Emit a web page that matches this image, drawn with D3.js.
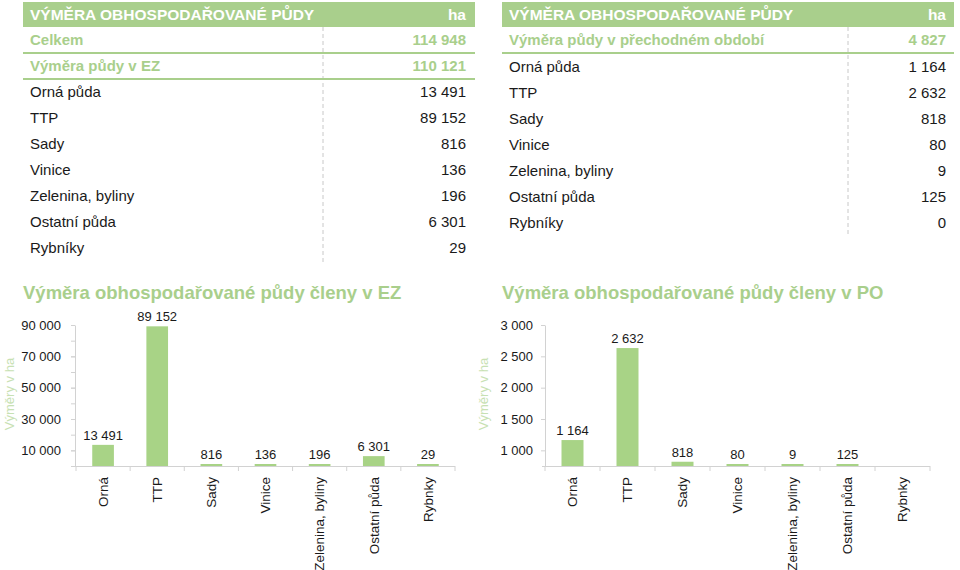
<!DOCTYPE html>
<html>
<head>
<meta charset="utf-8">
<script src="https://cdn.jsdelivr.net/npm/d3@7"></script>
<style>
  html, body { margin: 0; padding: 0; background: #ffffff; }
  svg { display: block; font-family: "Liberation Sans", Arial, Helvetica, sans-serif; }
</style>
</head>
<body>
<svg id="chart" width="960" height="570"></svg>
<script>
// ---------- DATA ----------
const headerTitle = "VÝMĚRA OBHOSPODAŘOVANÉ PŮDY";
const headerUnit = "ha";

const tableRowLabels = ["Orná půda", "TTP", "Sady", "Vinice", "Zelenina, byliny", "Ostatní půda", "Rybníky"];

const leftSummaryLabels = ["Celkem", "Výměra půdy v EZ"];
const leftSummaryValues = [114948, 110121];
const ezValues = [13491, 89152, 816, 136, 196, 6301, 29];

const rightSummaryLabels = ["Výměra půdy v přechodném období"];
const rightSummaryValues = [4827];
const poValues = [1164, 2632, 818, 80, 9, 125, 0];

const chartCategories = ["Orná", "TTP", "Sady", "Vinice", "Zelenina, byliny", "Ostatní půda", "Rybnky"];
const ezTitle = "Výměra obhospodařované půdy členy v EZ";
const poTitle = "Výměra obhospodařované půdy členy v PO";
const yAxisTitle = "Výměry v ha";

const ezTicks = [10000, 30000, 50000, 70000, 90000];
const ezMinorTicks = [0, 10000, 20000, 30000, 40000, 50000, 60000, 70000, 80000, 90000];
const ezDomain = [0, 90000];
const poTicks = [1000, 1500, 2000, 2500, 3000];
const poDomain = [750, 3000];

// ---------- STYLE ----------
const GREEN = "#a9cf8c";
const BAR = "#a8d386";
const AXIS_TITLE = "#c7e1b3";
const TEXT = "#1a1a1a";
const AXIS = "#d2d2d2";

const fmt = v => d3.format(",")(v).replace(/,/g, " ");
const svg = d3.select("#chart");

// ---------- TABLES ----------
function drawTable(cfg) {
  const g = svg.append("g");
  g.append("rect").attr("x", cfg.x0).attr("y", 2).attr("width", cfg.x1 - cfg.x0).attr("height", 25).attr("fill", GREEN);
  g.append("text").attr("x", cfg.textX).attr("y", 14.5).attr("dy", "0.35em")
    .attr("fill", "#fff").attr("font-weight", "bold").attr("font-size", 15.5).text(headerTitle);
  g.append("text").attr("x", cfg.valX).attr("y", 14.5).attr("dy", "0.35em").attr("text-anchor", "end")
    .attr("fill", "#fff").attr("font-weight", "bold").attr("font-size", 15.5).text(headerUnit);

  // divider
  g.append("line").attr("x1", cfg.divX).attr("x2", cfg.divX).attr("y1", 27).attr("y2", cfg.divY2)
    .attr("stroke", "#c8c8c8").attr("stroke-width", 1).attr("stroke-dasharray", "4,3");

  cfg.summaryLabels.forEach((lab, i) => {
    const cy = 40 + i * 26;
    g.append("text").attr("x", cfg.textX).attr("y", cy).attr("dy", "0.35em")
      .attr("fill", GREEN).attr("font-weight", "bold").attr("font-size", 15).text(lab);
    g.append("text").attr("x", cfg.valX).attr("y", cy).attr("dy", "0.35em").attr("text-anchor", "end")
      .attr("fill", GREEN).attr("font-weight", "bold").attr("font-size", 15).text(fmt(cfg.summaryValues[i]));
    g.append("line").attr("x1", cfg.x0).attr("x2", cfg.x1).attr("y1", cy + 13).attr("y2", cy + 13)
      .attr("stroke", GREEN).attr("stroke-width", 2);
  });

  const startY = cfg.rowStart;
  tableRowLabels.forEach((lab, i) => {
    const cy = startY + i * 26;
    g.append("text").attr("x", cfg.textX).attr("y", cy).attr("dy", "0.35em")
      .attr("fill", TEXT).attr("font-size", 15).text(lab);
    g.append("text").attr("x", cfg.valX).attr("y", cy).attr("dy", "0.35em").attr("text-anchor", "end")
      .attr("fill", TEXT).attr("font-size", 15).text(fmt(cfg.values[i]));
  });
}

drawTable({ x0: 23, x1: 475, textX: 30, valX: 466, divX: 323, divY2: 262,
  summaryLabels: leftSummaryLabels, summaryValues: leftSummaryValues, values: ezValues, rowStart: 92 });
drawTable({ x0: 502, x1: 954, textX: 509, valX: 946, divX: 848, divY2: 237,
  summaryLabels: rightSummaryLabels, summaryValues: rightSummaryValues, values: poValues, rowStart: 66.5 });

// ---------- CHARTS ----------
function drawChart(cfg) {
  const g = svg.append("g");
  const top = 325, base = 466;

  g.append("text").attr("x", cfg.titleX).attr("y", 299)
    .attr("fill", GREEN).attr("font-weight", "bold").attr("font-size", 18.5).text(cfg.title);

  g.append("text").attr("transform", `translate(${cfg.yTitleX},394) rotate(-90)`)
    .attr("text-anchor", "middle").attr("dy", "0.35em")
    .attr("fill", AXIS_TITLE).attr("font-size", 13).text(yAxisTitle);

  const x = d3.scaleBand().domain(chartCategories).range([cfg.xStart, cfg.xEnd]).padding(0);
  const y = d3.scaleLinear().domain(cfg.domain).range([base, top]);

  // minor ticks
  if (cfg.minorTicks) {
    const minor = g.append("g").attr("transform", `translate(${cfg.axisX},0)`)
      .call(d3.axisLeft(y).tickValues(cfg.minorTicks).tickSize(4).tickSizeOuter(0).tickFormat(""));
    minor.select(".domain").remove();
    minor.selectAll("line").attr("stroke", AXIS);
  }
  const yAxis = g.append("g").attr("transform", `translate(${cfg.axisX},0)`)
    .call(d3.axisLeft(y).tickValues(cfg.ticks).tickSize(4).tickSizeOuter(0).tickPadding(cfg.tickPad).tickFormat(fmt));
  yAxis.select(".domain").attr("stroke", AXIS);
  yAxis.selectAll("line").attr("stroke", AXIS);
  yAxis.selectAll("text").attr("font-size", 13).attr("fill", TEXT)
    .attr("font-family", '"Liberation Sans", Arial, sans-serif');

  // x axis line & boundary ticks
  g.append("line").attr("x1", cfg.axisX - 3).attr("x2", cfg.xEnd).attr("y1", base + 0.5).attr("y2", base + 0.5)
    .attr("stroke", AXIS);
  const bounds = chartCategories.map(c => x(c)).concat([cfg.xEnd]);
  g.selectAll(".xt").data(bounds).enter().append("line")
    .attr("x1", d => d).attr("x2", d => d).attr("y1", base).attr("y2", base + 5).attr("stroke", AXIS);

  const barW = x.bandwidth() * 0.4;
  const barTop = v => Math.min(y(Math.max(v, cfg.domain[0])), base - 2);
  const data = chartCategories.map((c, i) => ({ c, v: cfg.values[i] }));

  g.selectAll(".bar").data(data.filter(d => d.v > 0)).enter().append("rect")
    .attr("x", d => x(d.c) + (x.bandwidth() - barW) / 2)
    .attr("y", d => barTop(d.v))
    .attr("width", barW)
    .attr("height", d => base - barTop(d.v))
    .attr("fill", BAR);

  g.selectAll(".val").data(data.filter(d => d.v > 0)).enter().append("text")
    .attr("x", d => x(d.c) + x.bandwidth() / 2)
    .attr("y", d => barTop(d.v) - 5)
    .attr("text-anchor", "middle").attr("font-size", 13).attr("fill", TEXT)
    .text(d => fmt(d.v));

  g.selectAll(".cat").data(chartCategories).enter().append("text")
    .attr("transform", d => `translate(${x(d) + x.bandwidth() / 2},477) rotate(-90)`)
    .attr("text-anchor", "end").attr("dy", "0.35em")
    .attr("font-size", 13.5).attr("fill", TEXT).text(d => d);
}

drawChart({ title: ezTitle, titleX: 23, yTitleX: 9, axisX: 75, xStart: 76, xEnd: 455, tickPad: 10,
  domain: ezDomain, ticks: ezTicks, minorTicks: ezMinorTicks, values: ezValues });
drawChart({ title: poTitle, titleX: 502, yTitleX: 483, axisX: 545, xStart: 545, xEnd: 930, tickPad: 8,
  domain: poDomain, ticks: poTicks, minorTicks: null, values: poValues });
</script>
</body>
</html>
